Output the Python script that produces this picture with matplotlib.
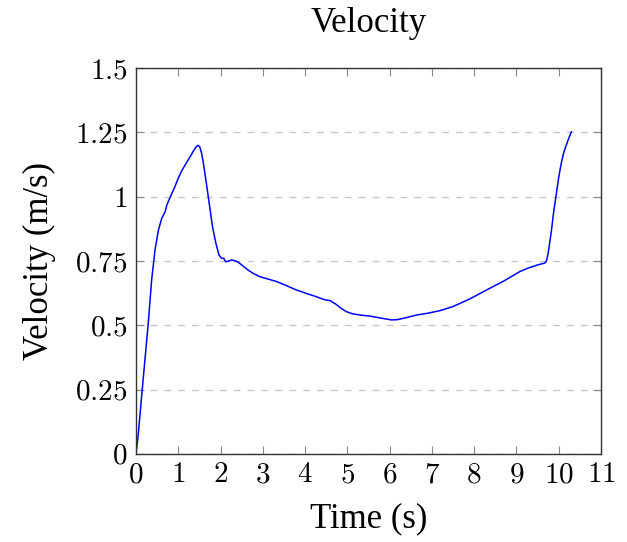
import matplotlib
matplotlib.use("Agg")
import matplotlib.pyplot as plt

plt.rcParams['font.family'] = ['Liberation Serif', 'DejaVu Serif']
plt.rcParams['mathtext.fontset'] = 'cm'

time_s = [0.0, 0.05, 0.15, 0.29, 0.37, 0.45, 0.53, 0.61, 0.69, 0.73, 0.82, 0.92,
          1.00, 1.08, 1.18, 1.28, 1.36, 1.43, 1.47, 1.51, 1.55, 1.59, 1.63, 1.71,
          1.81, 1.89, 1.96, 2.02, 2.08, 2.10, 2.13, 2.20, 2.26, 2.34, 2.42, 2.55,
          2.65, 2.77, 2.93, 3.10, 3.33, 3.55, 3.80, 4.05, 4.27, 4.45, 4.59, 4.74,
          4.86, 4.98, 5.12, 5.30, 5.53, 5.80, 6.04, 6.18, 6.32, 6.64, 6.90, 7.19,
          7.50, 7.90, 8.29, 8.70, 9.08, 9.30, 9.51, 9.62, 9.67, 9.71, 9.75, 9.79,
          9.83, 9.88, 9.94, 10.00, 10.06, 10.12, 10.18, 10.24, 10.30]
velocity = [0.0, 0.07, 0.255, 0.508, 0.676, 0.793, 0.870, 0.916, 0.942, 0.968,
            1.002, 1.039, 1.072, 1.100, 1.128, 1.155, 1.178, 1.195, 1.200, 1.193,
            1.170, 1.135, 1.091, 1.000, 0.883, 0.819, 0.775, 0.761, 0.760, 0.752,
            0.747, 0.750, 0.754, 0.751, 0.745, 0.728, 0.715, 0.702, 0.689, 0.681,
            0.670, 0.655, 0.637, 0.623, 0.611, 0.600, 0.596, 0.581, 0.565, 0.553,
            0.545, 0.540, 0.536, 0.528, 0.521, 0.522, 0.527, 0.540, 0.547, 0.557,
            0.573, 0.603, 0.637, 0.672, 0.709, 0.724, 0.735, 0.740, 0.742, 0.750,
            0.780, 0.825, 0.871, 0.940, 1.007, 1.075, 1.130, 1.172, 1.201, 1.228,
            1.252]

x_ticks = list(range(0, 12))
x_labels = [str(v) for v in x_ticks]
y_ticks = [0, 0.25, 0.5, 0.75, 1, 1.25, 1.5]
y_labels = ['0', '0.25', '0.5', '0.75', '1', '1.25', '1.5']

fig = plt.figure(figsize=(6.27, 5.42), dpi=100)
ax = fig.add_axes([0.2169, 0.1624, 0.9585 - 0.2169, 0.8745 - 0.1624])

ax.plot(time_s, velocity, color='#0000ff', lw=1.1)

ax.set_xlim(0, 11)
ax.set_ylim(0, 1.5)
ax.set_xticks(x_ticks)
ax.set_xticklabels(['$' + s + '$' for s in x_labels], fontsize=21)
ax.set_yticks(y_ticks)
ax.set_yticklabels(['$' + s + '$' for s in y_labels], fontsize=21)
ax.tick_params(direction='in', length=6, width=0.8, color='#888888',
               top=True, right=True, pad=6)
ax.grid(axis='y', color='#c8c8c8', linestyle=(0, (5, 5)), linewidth=1.0)
for s in ax.spines.values():
    s.set_color('#333333')
    s.set_linewidth(1.0)

ax.set_title('Velocity', fontsize=25, pad=26)
ax.set_xlabel('Time (s)', fontsize=25, labelpad=10)
ax.set_ylabel('Velocity (m/s)', fontsize=25, labelpad=14)

fig.savefig('out.png', dpi=100)
